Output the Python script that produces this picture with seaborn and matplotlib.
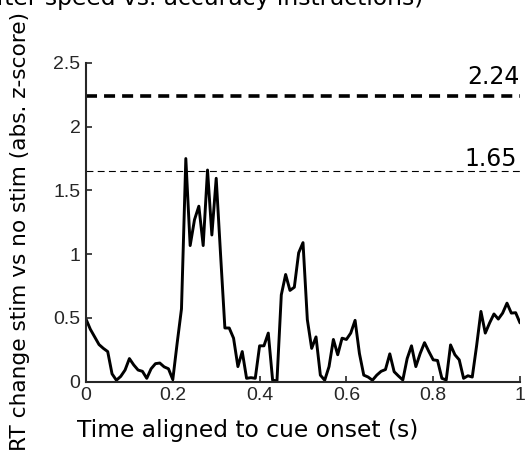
import numpy as np
import pandas as pd
import matplotlib
matplotlib.use("Agg")
import matplotlib.pyplot as plt
import seaborn as sns

time_s = [round(k * 0.01, 2) for k in range(101)]
rt_change = [
    0.49, 0.41, 0.35, 0.29, 0.26, 0.235, 0.06, 0.01, 0.04, 0.09,
    0.18, 0.13, 0.09, 0.08, 0.025, 0.10, 0.14, 0.145, 0.115, 0.10,
    0.015, 0.30, 0.57, 1.75, 1.067, 1.27, 1.376, 1.067, 1.66, 1.15,
    1.595, 1.00, 0.42, 0.42, 0.34, 0.117, 0.235, 0.025, 0.03, 0.025,
    0.28, 0.28, 0.38, 0.01, 0.005, 0.68, 0.84, 0.715, 0.74, 1.01,
    1.09, 0.485, 0.26, 0.35, 0.05, 0.01, 0.117, 0.33, 0.21, 0.34,
    0.33, 0.38, 0.48, 0.22, 0.05, 0.035, 0.01, 0.05, 0.08, 0.094,
    0.217, 0.077, 0.043, 0.012, 0.18, 0.28, 0.117, 0.22, 0.305, 0.235,
    0.17, 0.165, 0.025, 0.012, 0.287, 0.21, 0.17, 0.025, 0.045, 0.035,
    0.28, 0.55, 0.38, 0.46, 0.53, 0.49, 0.537, 0.615, 0.537, 0.54,
    0.46,
]
thresholds = [2.24, 1.65]
threshold_labels = ["2.24", "1.65"]
x_ticks = [0, 0.2, 0.4, 0.6, 0.8, 1]
x_tick_labels = ["0", "0.2", "0.4", "0.6", "0.8", "1"]
y_ticks = [0, 0.5, 1, 1.5, 2, 2.5]
y_tick_labels = ["0", "0.5", "1", "1.5", "2", "2.5"]

sns.set_style("ticks")
plt.rcParams["font.family"] = ["DejaVu Sans"]

W, H = 530, 453
fig = plt.figure(figsize=(W / 100, H / 100), dpi=100)
ax = fig.add_axes([86 / W, 1 - 381.5 / H, 434 / W, (381.5 - 63) / H])

df = pd.DataFrame({"t": time_s, "v": rt_change})
sns.lineplot(data=df, x="t", y="v", color="black", linewidth=2.1, ax=ax)

ax.axhline(thresholds[0], color="black", linewidth=2.6, linestyle=(0, (3.05, 1.95)))
ax.axhline(thresholds[1], color="black", linewidth=0.8, linestyle=(0, (6.2, 3.9)))
ax.text(1.0, 2.335, threshold_labels[0], ha="right", va="baseline",
        fontsize=17, color="black")
ax.text(0.993, 1.691, threshold_labels[1], ha="right", va="baseline",
        fontsize=17, color="black")

ax.set_xlim(0, 1)
ax.set_ylim(0, 2.5)
ax.set_xticks(x_ticks)
ax.set_xticklabels(x_tick_labels, family="Liberation Sans")
ax.set_yticks(y_ticks)
ax.set_yticklabels(y_tick_labels, family="Liberation Sans")
ax.tick_params(direction="in", length=4, width=1.2, labelsize=14,
               colors="#262626", pad=4)
for side in ["top", "right"]:
    ax.spines[side].set_visible(False)
for side in ["left", "bottom"]:
    ax.spines[side].set_linewidth(1.5)
    ax.spines[side].set_color("#262626")

ax.set_xlabel("")
ax.set_ylabel("")
fig.text(77 / W, 1 - 437 / H, "Time aligned to cue onset (s)", ha="left",
         va="baseline", fontsize=16.8, color="black")
fig.text(20 / W, 1 - 12 / H, "RT change stim vs no stim (abs. z-score)", ha="center",
         va="top", rotation=90, fontsize=15.6, color="black")

fig.text(423 / W, 1 - 5 / H, "(after speed vs. accuracy instructions)",
         ha="right", va="baseline", fontsize=16.8, color="black")

fig.savefig("out.png", dpi=100)
